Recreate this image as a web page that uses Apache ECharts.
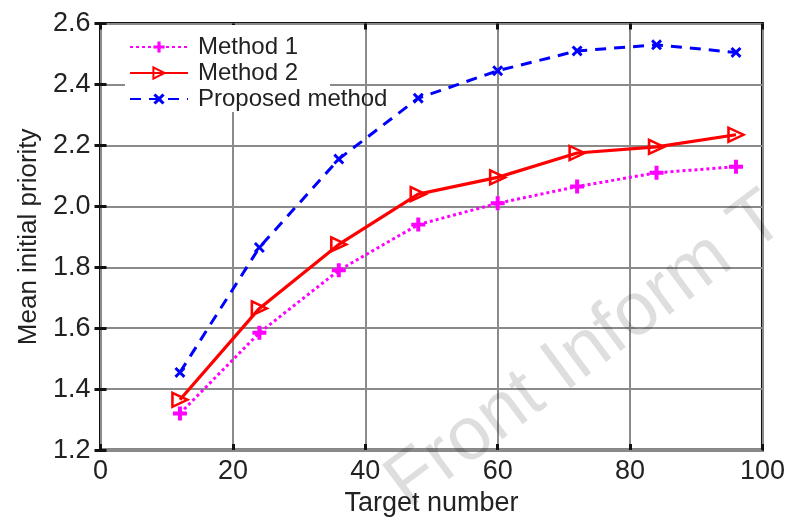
<!DOCTYPE html>
<html>
<head>
<meta charset="utf-8">
<script src="https://cdn.jsdelivr.net/npm/echarts@6/dist/echarts.min.js"></script>
<style>
  html, body { margin: 0; padding: 0; background: #fff; }
  #chart { width: 788px; height: 522px; }
</style>
</head>
<body>
<div id="chart"></div>
<script>
// Target counts on the x axis
var targetNumbers = [12, 24, 36, 48, 60, 72, 84, 96];

// Mean initial priority for each method
var method1 = [1.32, 1.585, 1.79, 1.94, 2.01, 2.065, 2.11, 2.13];
var method2 = [1.365, 1.665, 1.875, 2.04, 2.095, 2.175, 2.195, 2.235];
var proposed = [1.455, 1.865, 2.155, 2.355, 2.445, 2.51, 2.53, 2.505];

var seriesNames = ['Method 1', 'Method 2', 'Proposed method'];

function pairs(xs, ys) {
  return xs.map(function (x, i) { return [x, ys[i]]; });
}

var FONT = '"Liberation Sans", Arial, sans-serif';
var plusPath = 'path://M-1.7,-6 H1.7 V-1.7 H6 V1.7 H1.7 V6 H-1.7 V1.7 H-6 V-1.7 H-1.7 Z';
var crossPath = 'path://M0,1.9 L1.9,0 L5,3.1 L8.1,0 L10,1.9 L6.9,5 L10,8.1 L8.1,10 L5,6.9 L1.9,10 L0,8.1 L3.1,5 Z';
var trianglePath = 'path://M0,0 L12,6 L0,12 Z';

var chart = echarts.init(document.getElementById('chart'), null, { renderer: 'canvas' });

var tickStyle = { show: true, inside: true, length: 6, lineStyle: { color: '#111', width: 3 } };

chart.setOption({
  animation: false,
  backgroundColor: '#fff',
  grid: {
    left: 100.5, right: 22.5, top: 23.5, bottom: 68,
    show: true, borderColor: '#111', borderWidth: 3, backgroundColor: '#fff'
  },
  legend: {
    orient: 'vertical',
    left: 124, top: 30,
    itemWidth: 58, itemHeight: 14,
    itemGap: 2,
    textStyle: { fontFamily: FONT, fontSize: 24, color: '#222', padding: [0, 0, 0, 5] },
    data: seriesNames
  },
  xAxis: [{
    type: 'value', min: 0, max: 100, interval: 20,
    name: 'Target number', nameLocation: 'middle', nameGap: 35,
    nameTextStyle: { fontFamily: FONT, fontSize: 27, color: '#222' },
    axisLine: { show: false },
    axisTick: tickStyle,
    axisLabel: { fontFamily: FONT, fontSize: 27, color: '#222', margin: 8 },
    splitLine: { show: true, lineStyle: { color: '#8a8a8a', width: 2 } }
  }, {
    type: 'value', position: 'top', min: 0, max: 100, interval: 20,
    axisLine: { show: false }, axisTick: tickStyle,
    axisLabel: { show: false }, splitLine: { show: false }
  }],
  yAxis: [{
    type: 'value', min: 1.2, max: 2.6, interval: 0.2,
    name: 'Mean initial priority', nameLocation: 'middle', nameGap: 58,
    nameTextStyle: { fontFamily: FONT, fontSize: 26, color: '#222' },
    axisLine: { show: false },
    axisTick: tickStyle,
    axisLabel: {
      fontFamily: FONT, fontSize: 27, color: '#222', margin: 10,
      formatter: function (v) { return v.toFixed(1); }
    },
    splitLine: { show: true, lineStyle: { color: '#8a8a8a', width: 2 } }
  }, {
    type: 'value', position: 'right', min: 1.2, max: 2.6, interval: 0.2,
    axisLine: { show: false }, axisTick: tickStyle,
    axisLabel: { show: false }, splitLine: { show: false }
  }],
  graphic: [
    {
      // white legend panel over the grid lines
      type: 'rect', z: 1,
      shape: { x: 125, y: 25, width: 205, height: 87 },
      style: { fill: '#fff' }
    },
    {
      // publisher watermark
      type: 'text', z: 100,
      x: 418, y: 523,
      rotation: 36.7 * Math.PI / 180,
      style: {
        text: 'Front Inform T',
        font: '75px ' + FONT,
        fill: 'rgba(0,0,0,0.13)',
        textAlign: 'left',
        textVerticalAlign: 'bottom'
      }
    }
  ],
  series: [
    {
      name: 'Method 1', type: 'line', z: 3,
      data: pairs(targetNumbers, method1),
      color: '#ff00ff',
      symbol: plusPath, symbolSize: 14,
      lineStyle: { color: '#ff00ff', width: 3, type: [3, 3] },
      itemStyle: { color: '#ff00ff' }
    },
    {
      name: 'Method 2', type: 'line', z: 3,
      data: pairs(targetNumbers, method2),
      color: '#ff0000',
      symbol: trianglePath, symbolSize: [15, 14],
      lineStyle: { color: '#ff0000', width: 3.2 },
      itemStyle: { color: 'rgba(255,255,255,0)', borderColor: '#ff0000', borderWidth: 2.5 }
    },
    {
      name: 'Proposed method', type: 'line', z: 3,
      data: pairs(targetNumbers, proposed),
      color: '#0000ff',
      symbol: crossPath, symbolSize: 11,
      lineStyle: { color: '#0000ff', width: 3, type: [11, 8] },
      itemStyle: { color: '#0000ff' }
    }
  ]
});
</script>
</body>
</html>
